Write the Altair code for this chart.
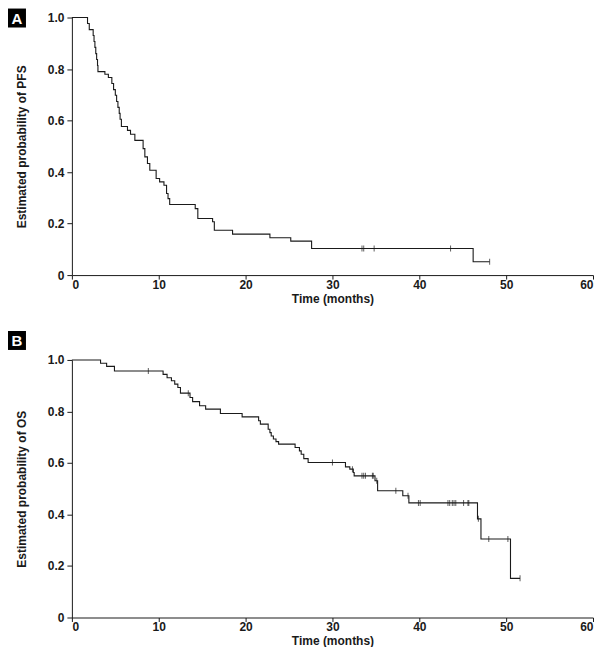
import altair as alt
import pandas as pd

# ---- Panel A: progression-free survival (Kaplan-Meier steps) ----
pfs_time = [0, 1.8, 2.0, 2.45, 2.55, 2.65, 2.75, 2.85, 2.95, 3.0, 3.8, 4.2, 4.6, 4.8,
            5.0, 5.15, 5.3, 5.45, 5.55, 5.7, 6.4, 6.75, 7.25, 8.2, 8.4, 8.7, 8.97, 9.7,
            10.1, 10.6, 10.9, 11.07, 11.26, 14.2, 14.5, 16.2, 16.4, 18.5, 22.8, 25.2,
            27.6, 46.2, 48.1]
pfs_surv = [1.0, 0.977, 0.953, 0.93, 0.907, 0.884, 0.86, 0.837, 0.814, 0.79, 0.78, 0.767,
            0.744, 0.72, 0.698, 0.674, 0.651, 0.628, 0.605, 0.577, 0.562, 0.547, 0.523,
            0.491, 0.459, 0.433, 0.407, 0.375, 0.362, 0.349, 0.317, 0.297, 0.274, 0.258,
            0.22, 0.207, 0.174, 0.159, 0.145, 0.132, 0.103, 0.052, 0.052]
pfs_censor_time = [33.4, 33.6, 34.8, 43.6, 48.1]

# ---- Panel B: overall survival ----
os_time = [0, 3.3, 4.0, 4.9, 10.5, 10.96, 11.46, 11.84, 12.2, 12.5, 13.6, 13.9, 14.7,
           15.4, 17.1, 19.6, 21.5, 21.7, 22.6, 22.8, 22.95, 23.2, 23.5, 23.8, 25.7, 26.2,
           26.4, 26.7, 27.2, 31.5, 32.0, 32.4, 32.5, 34.9, 35.2, 38.1, 38.8, 46.7, 47.1,
           50.5, 51.6]
os_surv = [1.0, 0.987, 0.975, 0.957, 0.944, 0.931, 0.919, 0.906, 0.893, 0.871, 0.854,
           0.838, 0.822, 0.809, 0.792, 0.779, 0.764, 0.751, 0.731, 0.718, 0.705, 0.693,
           0.683, 0.673, 0.660, 0.647, 0.634, 0.617, 0.602, 0.585, 0.576, 0.563, 0.550,
           0.531, 0.492, 0.473, 0.445, 0.383, 0.305, 0.152, 0.152]
os_censor_time = [8.8, 13.4, 30.0, 32.3, 33.4, 33.6, 33.8, 34.6, 34.7, 35.1, 37.3, 38.7,
                  39.9, 40.1, 43.3, 43.5, 43.8, 44.0, 44.2, 45.1, 45.6, 45.7, 46.8, 48.0,
                  50.2, 51.6]

x_ticks = [0, 10, 20, 30, 40, 50, 60]
y_ticks = [0, 0.2, 0.4, 0.6, 0.8, 1.0]

FONT = "Liberation Sans"
INK = "#1a1a1a"


def step_value(times, survs, t):
    v = survs[0]
    for ti, si in zip(times, survs):
        if ti <= t:
            v = si
    return v


def panel(times, survs, ctimes, ytitle, letter, box_top):
    curve = pd.DataFrame({"t": times, "s": survs})
    cens = pd.DataFrame({"t": ctimes,
                         "s": [step_value(times, survs, c) for c in ctimes]})
    x = alt.X("t:Q", scale=alt.Scale(domain=[0, 60], nice=False),
              axis=alt.Axis(values=x_ticks, title="Time (months)", labelPadding=0,
                            tickSize=4, titlePadding=3))
    y = alt.Y("s:Q", scale=alt.Scale(domain=[0, 1], nice=False),
              axis=alt.Axis(values=y_ticks, title=ytitle, labelPadding=3,
                            tickSize=5, titlePadding=19,
                            labelExpr="datum.value == 0 ? '0' : format(datum.value, '.1f')"))
    line = alt.Chart(curve).mark_line(
        interpolate="step-after", color=INK, strokeWidth=1.1
    ).encode(x=x, y=y)
    ticks = alt.Chart(cens).mark_tick(
        orient="vertical", size=6, thickness=1, color=INK
    ).encode(x="t:Q", y="s:Q")
    lab = pd.DataFrame({"label": [letter]})
    box = alt.Chart(lab).mark_rect(color="black").encode(
        x=alt.value(-64), x2=alt.value(-46),
        y=alt.value(box_top), y2=alt.value(box_top + 19))
    txt = alt.Chart(lab).mark_text(
        color="white", fontWeight="bold", fontSize=15, font=FONT,
        align="center", baseline="middle"
    ).encode(x=alt.value(-55), y=alt.value(box_top + 10), text="label:N")
    return alt.layer(box, txt, line, ticks).properties(width=522, height=258)


chart = alt.vconcat(
    panel(pfs_time, pfs_surv, pfs_censor_time, "Estimated probability of PFS", "A", -9),
    panel(os_time, os_surv, os_censor_time, "Estimated probability of OS", "B", -29),
    spacing=27,
).properties(padding=0).configure_axis(
    domainColor=INK, tickColor=INK, labelColor=INK, titleColor=INK,
    labelFont=FONT, titleFont=FONT, labelFontWeight="bold", titleFontWeight="bold",
    labelFontSize=12, titleFontSize=12, grid=False, domainWidth=1,
    tickWidth=1
).configure_view(stroke=None)

chart.save("out.html", embed_options={"renderer": "svg", "actions": False})
